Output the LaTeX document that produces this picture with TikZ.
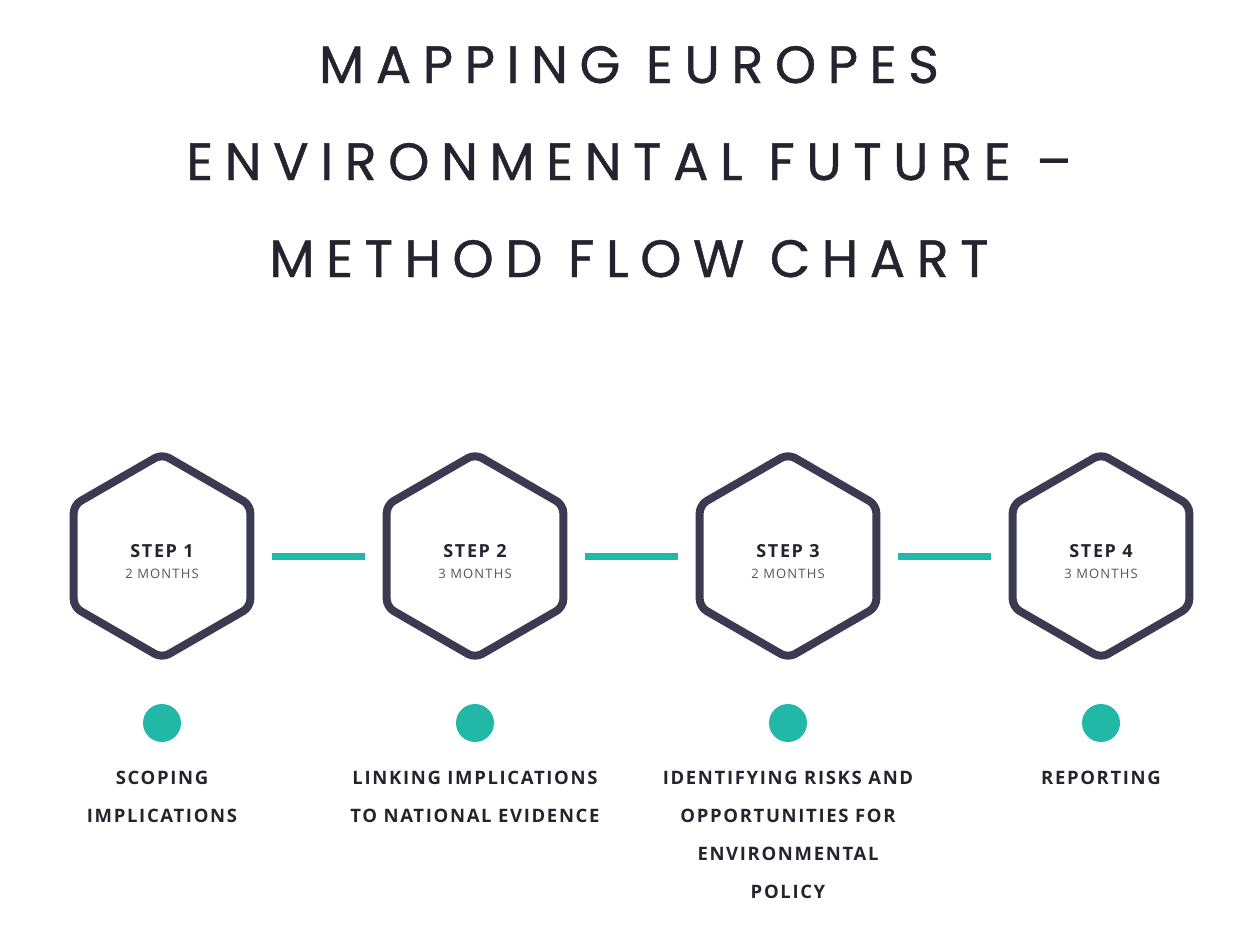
\documentclass[tikz,border=0pt]{standalone}
\usepackage{fontspec}
\usetikzlibrary{shapes.geometric}
\newfontfamily\titlefont[LetterSpace=22,FakeBold=0.8]{Poppins}
\newfontfamily\labfont[LetterSpace=9]{Open Sans}
\definecolor{ink}{HTML}{24242F}
\definecolor{hexc}{HTML}{3C3A50}
\definecolor{teal}{HTML}{22B8A8}
\definecolor{greytxt}{HTML}{555560}
\tikzset{
  hexbox/.style={regular polygon, regular polygon sides=6, shape border rotate=30,
    minimum size=204pt, inner sep=0pt, draw=hexc, line width=8pt, rounded corners=8pt},
  conn/.style={draw=teal, line width=7pt, shorten <=18pt, shorten >=18pt},
  dotn/.style={circle, fill=teal, minimum size=38pt, inner sep=0pt},
  steplab/.style={font=\labfont\bfseries\fontsize{18}{20}\selectfont, text=ink, anchor=base},
  monlab/.style={font=\labfont\fontsize{13}{15}\selectfont, text=greytxt, anchor=base},
  bottomlab/.style={font=\labfont\bfseries\fontsize{18.5}{38}\selectfont, text=ink, align=center, anchor=base},
  titlelab/.style={font=\titlefont\fontsize{52.5}{97}\selectfont, text=ink, align=center, anchor=base}
}
\begin{document}
\begin{tikzpicture}[x=1pt,y=-1pt]
\useasboundingbox (0,0) rectangle (1248,946);
\node[titlelab] (title) at (629,277) {MAPPING EUROPES\\ENVIRONMENTAL FUTURE –\\METHOD FLOW CHART};
\foreach \i/\x/\m in {1/162/2,2/475/3,3/788/2,4/1101/3}{
  \node[hexbox] (h\i) at (\x,556) {};
  \node[steplab] (s\i) at (\x,557) {STEP \i};
  \node[monlab] (m\i) at (\x,578) {\m{} MONTHS};
  \node[dotn] (d\i) at (\x,723) {};
}
\draw[conn] (h1) -- (h2);
\draw[conn] (h2) -- (h3);
\draw[conn] (h3) -- (h4);
\node[bottomlab] (b1) at (162,822) {SCOPING\\IMPLICATIONS};
\node[bottomlab] (b2) at (475,822) {LINKING IMPLICATIONS\\TO NATIONAL EVIDENCE};
\node[bottomlab] (b3) at (788,898) {IDENTIFYING RISKS AND\\OPPORTUNITIES FOR\\ENVIRONMENTAL\\POLICY};
\node[bottomlab] (b4) at (1101,784) {REPORTING};
\end{tikzpicture}
\end{document}
